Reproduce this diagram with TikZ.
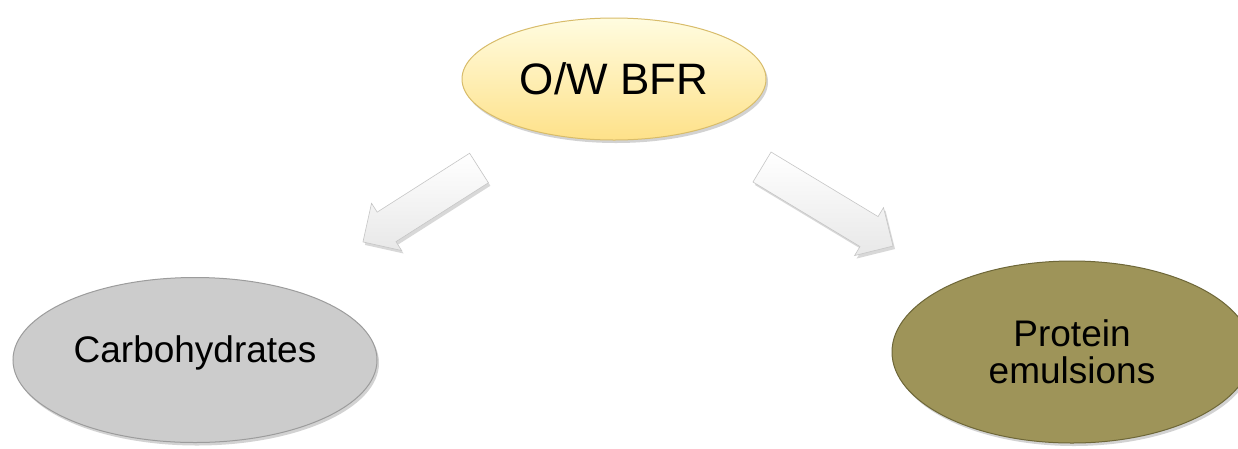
\documentclass[tikz,border=0pt]{standalone}
\usepackage{fontspec}
\setmainfont{Liberation Sans}
\usetikzlibrary{shapes.geometric,shadows}
\definecolor{ytop}{HTML}{FFFCE0}
\definecolor{ybot}{HTML}{FEE189}
\definecolor{yedge}{HTML}{D8BC6A}
\definecolor{gfill}{HTML}{CCCCCC}
\definecolor{gedge}{HTML}{9C9C9C}
\definecolor{ofill}{HTML}{9E9459}
\definecolor{oedge}{HTML}{6E6738}
\tikzset{
  oval/.style={ellipse, inner sep=0pt, line width=1pt,
    drop shadow={opacity=0.35, shadow xshift=2pt, shadow yshift=-3pt}},
  lbl/.style={inner sep=0pt, align=center, text=black},
  blockarrow/.style={draw=gray!45, line width=0.6pt, top color=white, bottom color=gray!18,
    drop shadow={opacity=0.3, shadow xshift=2pt, shadow yshift=-3pt}}
}
\begin{document}
\begin{tikzpicture}[x=1pt,y=-1pt]
\useasboundingbox (0,0) rectangle (1238,448);
\clip (0,0) rectangle (1238,448);
\fill[white] (0,0) rectangle (1238,448);
% ellipses
\node[oval, minimum width=304pt, minimum height=122pt, draw=yedge, top color=ytop, bottom color=ybot] (top) at (614,79) {};
\node[lbl, font=\fontsize{44}{44}\selectfont] (toptxt) at (top.center) {O/W BFR};
\node[oval, minimum width=364pt, minimum height=165pt, draw=gedge, fill=gfill] (carb) at (195,360) {};
\node[lbl, font=\fontsize{37}{37}\selectfont] (carbtxt) at ([yshift=7pt]carb.center) {Carbohydrates};
\node[oval, minimum width=360pt, minimum height=182pt, draw=oedge, fill=ofill] (prot) at (1072,352) {};
\node[lbl, font=\fontsize{37}{37}\selectfont] (prottxt) at (prot.center) {Protein\\emulsions};
% block arrows
\begin{scope}[shift={(479,168)}, rotate=212.5]
  \path[blockarrow] (0,-17.5) -- (109.6,-17.5) -- (109.6,-28) -- (137.6,0) -- (109.6,28) -- (109.6,17.5) -- (0,17.5) -- cycle;
\end{scope}
\begin{scope}[shift={(762,167)}, rotate=-31.1]
  \path[blockarrow] (0,-17.5) -- (125,-17.5) -- (125,-28) -- (153,0) -- (125,28) -- (125,17.5) -- (0,17.5) -- cycle;
\end{scope}
\end{tikzpicture}
\end{document}
